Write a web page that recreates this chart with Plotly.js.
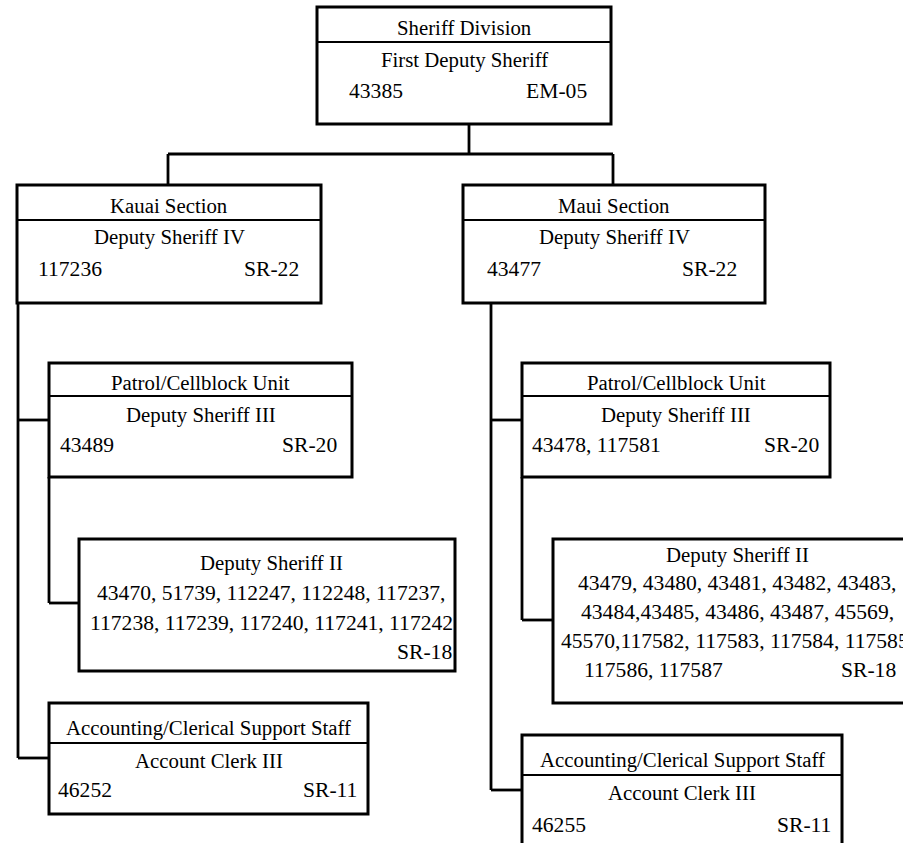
<!DOCTYPE html>
<html>
<head>
<meta charset="utf-8">
<script src="https://cdn.plot.ly/plotly-3.0.1.min.js"></script>
<style>
html,body{margin:0;padding:0;background:#fff;overflow:hidden;}
#chart{width:903px;height:843px;}
</style>
</head>
<body>
<div id="chart"></div>
<script>
// ---- Chart content (text data) ----
const unitTitles = [
  "Sheriff Division",
  "Kauai Section",
  "Maui Section",
  "Patrol/Cellblock Unit",
  "Patrol/Cellblock Unit",
  null,
  null,
  "Accounting/Clerical Support Staff",
  "Accounting/Clerical Support Staff"
];
const positionTitles = [
  "First Deputy Sheriff",
  "Deputy Sheriff IV",
  "Deputy Sheriff IV",
  "Deputy Sheriff III",
  "Deputy Sheriff III",
  "Deputy Sheriff II",
  "Deputy Sheriff II",
  "Account Clerk III",
  "Account Clerk III"
];
const positionNumbers = [
  "43385",
  "117236",
  "43477",
  "43489",
  "43478, 117581",
  null,
  null,
  "46252",
  "46255"
];
const kauaiDS2Lines = [
  "43470, 51739, 112247, 112248, 117237,",
  "117238, 117239, 117240, 117241, 117242"
];
const mauiDS2Lines = [
  "43479, 43480, 43481, 43482, 43483,",
  "43484,43485, 43486, 43487, 45569,",
  "45570,117582, 117583, 117584, 117585,"
];
const mauiDS2LastLine = "117586, 117587";
const grades = ["EM-05","SR-22","SR-22","SR-20","SR-20","SR-18","SR-18","SR-11","SR-11"];

// ---- Layout geometry (pixel positions) ----
const geom = [
  {x0:317,x1:611,y0:7,  yd:42,  y1:124, ty:27,  py:60,  ry:91,  lx:348, rx:588},
  {x0:17, x1:321,y0:185,yd:220, y1:303, ty:205, py:237, ry:269, lx:37,  rx:300},
  {x0:463,x1:765,y0:185,yd:220, y1:303, ty:205, py:237, ry:269, lx:486, rx:738},
  {x0:49, x1:352,y0:363,yd:396, y1:477, ty:382, py:415, ry:445, lx:59,  rx:338},
  {x0:522,x1:830,y0:363,yd:396, y1:477, ty:382, py:415, ry:445, lx:531, rx:820},
  {x0:79, x1:455,y0:539,yd:null,y1:671, py:563, cx:271, lines:[593,623], gy:652, rx:453},
  {x0:553,x1:940,y0:539,yd:null,y1:703, py:555, cx:737, lines:[583,612,641], gy:670, rx:897, lastx:583},
  {x0:49, x1:368,y0:703,yd:743, y1:814, ty:728, py:760, ry:790, lx:57,  rx:358},
  {x0:522,x1:842,y0:735,yd:775, y1:880, ty:760, py:792, ry:825, lx:531, rx:832}
];
const connectors = [
  [469,124,469,154],[168,154,613,154],[168,154,168,185],[613,154,613,185],
  [18,303,18,758],[18,420,49,420],[18,758,49,758],
  [49,477,49,603],[49,603,79,603],
  [491,303,491,790],[491,420,522,420],[491,790,522,790],
  [522,477,522,620],[522,620,553,620]
];

const FONT = {family:"Liberation Serif", size:20.8, color:"#000"};
const NUMFONT = {family:"Liberation Serif", size:21.6, color:"#000"};
const shapes = [];
const annotations = [];
function ann(x,y,text,xanchor,font){
  annotations.push({x:x,y:y,xref:'x',yref:'y',text:text,showarrow:false,
    xanchor:xanchor,yanchor:'middle',font:font||FONT,borderpad:0});
}
geom.forEach((g,i)=>{
  shapes.push({type:'rect',xref:'x',yref:'y',x0:g.x0,x1:g.x1,y0:g.y0,y1:g.y1,
    line:{color:'#000',width:3},fillcolor:'rgba(0,0,0,0)'});
  if(g.yd!==null){
    shapes.push({type:'line',xref:'x',yref:'y',x0:g.x0,x1:g.x1,y0:g.yd,y1:g.yd,
      line:{color:'#000',width:2.2}});
  }
  const cx = g.cx!==undefined ? g.cx : (g.x0+g.x1)/2;
  if(unitTitles[i]) ann(cx,g.ty,unitTitles[i],'center');
  ann(cx,g.py,positionTitles[i],'center');
  if(positionNumbers[i]){
    ann(g.lx,g.ry,positionNumbers[i],'left',NUMFONT);
    ann(g.rx,g.ry,grades[i],'right',NUMFONT);
  }
});
// Deputy Sheriff II lists
kauaiDS2Lines.forEach((t,k)=>ann(geom[5].cx,geom[5].lines[k],t,'center',NUMFONT));
ann(geom[5].rx,geom[5].gy,grades[5],'right',NUMFONT);
mauiDS2Lines.forEach((t,k)=>ann(geom[6].cx,geom[6].lines[k],t,'center',NUMFONT));
ann(geom[6].lastx,geom[6].gy,mauiDS2LastLine,'left',NUMFONT);
ann(geom[6].rx,geom[6].gy,grades[6],'right',NUMFONT);

connectors.forEach(c=>{
  shapes.push({type:'line',xref:'x',yref:'y',x0:c[0],y0:c[1],x1:c[2],y1:c[3],
    line:{color:'#000',width:2.8}});
});

const layout = {
  width:903,height:843,
  margin:{l:0,r:0,t:0,b:0,pad:0},
  paper_bgcolor:'#fff',plot_bgcolor:'#fff',
  font:{family:"Liberation Serif"},
  xaxis:{range:[0,903],visible:false,fixedrange:true},
  yaxis:{range:[843,0],visible:false,fixedrange:true},
  showlegend:false,
  shapes:shapes,
  annotations:annotations
};
Plotly.newPlot('chart',[{x:[],y:[],type:'scatter',hoverinfo:'skip'}],layout,{staticPlot:true,displayModeBar:false});
</script>
</body>
</html>
